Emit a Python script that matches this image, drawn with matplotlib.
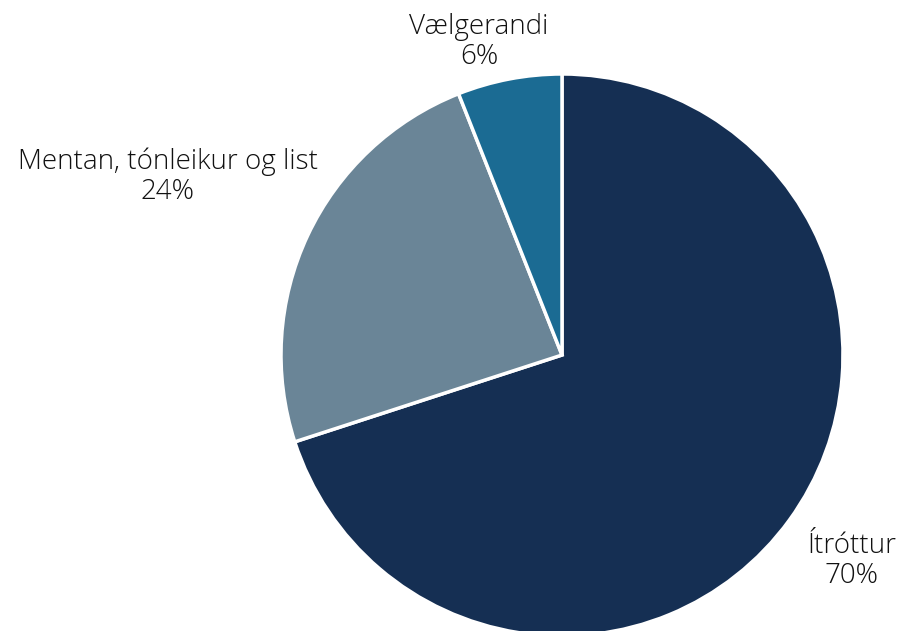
import matplotlib
matplotlib.use("Agg")
import matplotlib.pyplot as plt

categories = ["Ítróttur", "Mentan, tónleikur og list", "Vælgerandi"]
values = [70, 24, 6]
colors = ["#152f53", "#6a8597", "#1b6b93"]

# label positions (pixel coords from top-left)
label_pos = [(852, 561), (168, 177), (479, 42)]

W, H = 899, 631
fig = plt.figure(figsize=(W / 100, H / 100), dpi=100)
ax = fig.add_axes([0, 0, 1, 1])
ax.pie(values, colors=colors, startangle=90, counterclock=False,
       center=(562, H - 355), radius=281,
       wedgeprops=dict(edgecolor="white", linewidth=2.5))
ax.set_xlim(0, W)
ax.set_ylim(0, H)
ax.set_aspect("auto")
ax.axis("off")

for cat, val, (x, y) in zip(categories, values, label_pos):
    ax.text(x, H - y, f"{cat}\n{val}%", ha="center", va="center",
            fontsize=20, family=["Open Sans", "DejaVu Sans"], fontweight="light",
            color="#111111", linespacing=1.1)

fig.savefig("out.png", dpi=100)
